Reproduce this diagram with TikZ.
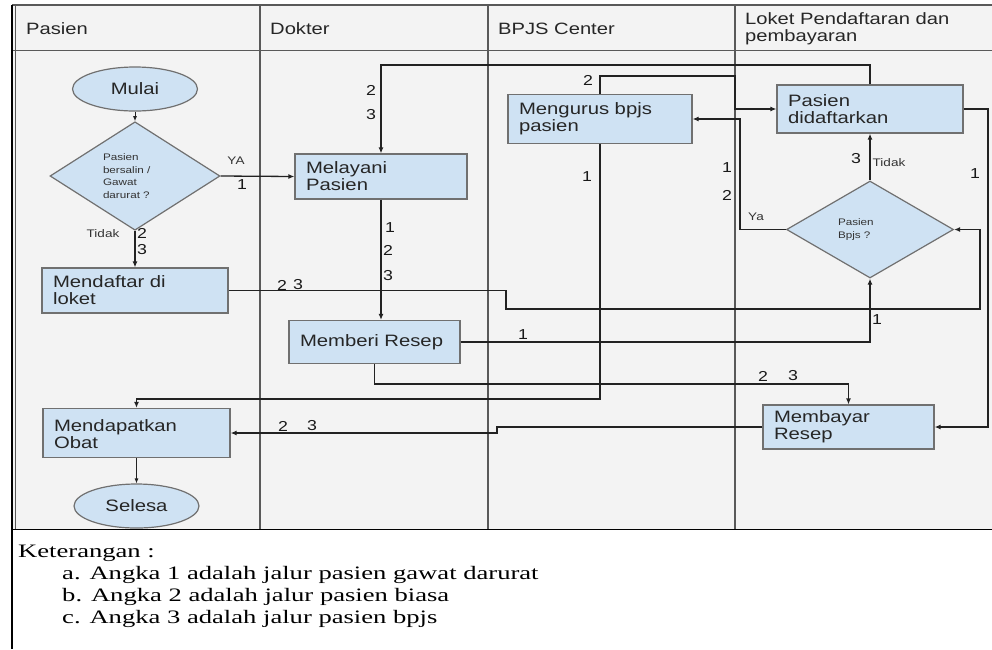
\documentclass[tikz,border=0pt]{standalone}
\usepackage{fontspec}
\setmainfont{Liberation Sans}[FakeStretch=1.23]
\newfontfamily\legfont{Liberation Serif}[FakeStretch=1.4]
\usetikzlibrary{shapes.geometric,arrows.meta}
\definecolor{lanebg}{HTML}{F3F3F3}
\definecolor{boxfill}{HTML}{CFE2F3}
\definecolor{boxline}{HTML}{707070}
\definecolor{linec}{HTML}{222222}
\begin{document}
\begin{tikzpicture}[x=1pt,y=-1pt,
  procbox/.style={draw=boxline, line width=1.2pt, fill=boxfill, rectangle, align=left,
    inner xsep=11pt, inner ysep=0pt, font=\fontsize{16.5}{17}\selectfont, text=black!85},
  term/.style={draw=boxline, line width=1.2pt, fill=boxfill, ellipse, inner sep=0pt,
    minimum width=125pt, minimum height=44pt, font=\fontsize{16.5}{17}\selectfont, text=black!85},
  decis/.style={draw=boxline, line width=1.2pt, fill=boxfill, diamond, inner sep=0pt,
    align=left, text width=64pt, font=\fontsize{9.5}{12.5}\selectfont, text=black!80},
  conn/.style={draw=linec, line width=1.8pt, -{Latex[length=6pt,width=5pt]}},
  midconn/.style={draw=linec, line width=1.3pt, -{Latex[length=6pt,width=5pt]}},
  thinconn/.style={draw=linec, line width=0.9pt, -{Latex[length=5pt,width=4pt]}},
  num/.style={font=\fontsize{14.4}{14.4}\selectfont, inner sep=0pt, text=black!90},
  small/.style={font=\fontsize{11}{11}\selectfont, inner sep=0pt, text=black!80},
  hdr/.style={font=\fontsize{16.4}{17}\selectfont, anchor=west, align=left, inner sep=0pt, text=black!85},
  lane/.style={draw=black!65, line width=1.5pt},
  legtext/.style={font=\legfont\fontsize{19}{22}\selectfont, anchor=base west, inner sep=0pt, text=black}
]
\useasboundingbox (0,0) rectangle (992,649);
% backgrounds and lanes
\fill[lanebg] (12,5) rectangle (992,529);
\draw[lane] (12,5) -- (992,5);
\draw[lane] (12,50.5) -- (992,50.5);
\draw[lane] (15.5,5) -- (15.5,529);
\draw[lane] (260,5) -- (260,529);
\draw[lane] (488,5) -- (488,529);
\draw[lane] (735,5) -- (735,529);
\draw[black, line width=1.6pt] (12,5) -- (12,649);
\draw[black, line width=1.8pt] (12,529.5) -- (992,529.5);

% headers
\node[hdr] (hpasien) at (26,29) {Pasien};
\node[hdr] (hdokter) at (270,29) {Dokter};
\node[hdr] (hbpjs) at (498,29) {BPJS Center};
\node[hdr] (hloket) at (745,28.5) {Loket Pendaftaran dan\\pembayaran};

% nodes
\node[term] (mulai) at (135,89) {Mulai};
\node[decis, minimum width=170pt, minimum height=98pt] (d1) at (135,176) {Pasien\\bersalin /\\Gawat\\darurat ?};
\node[procbox, text width=164pt, minimum height=45pt] (daftar) at (135,290.5) {Mendaftar di\\loket};
\node[procbox, text width=150pt, minimum height=45pt] (melayani) at (381,176.5) {Melayani\\Pasien};
\node[procbox, text width=149pt, minimum height=43pt] (resep) at (374.5,342) {Memberi Resep};
\node[procbox, text width=165pt, minimum height=49pt] (obat) at (136.5,433)
  {\raisebox{-8pt}[0pt][0pt]{\begin{tabular}{@{}l@{}}Mendapatkan\\Obat\end{tabular}}};
\node[term] (selesa) at (136.5,506) {Selesa};
\node[procbox, text width=162pt, minimum height=49pt] (bpjs) at (600,119) {Mengurus bpjs\\pasien};
\node[procbox, text width=164pt, minimum height=48pt] (didaftar) at (870,109) {Pasien\\didaftarkan};
\node[decis, minimum width=167pt, minimum height=97pt] (d2) at (870,229.5) {Pasien\\Bpjs ?};
\node[procbox, text width=149pt, minimum height=44pt] (bayar) at (848.5,427) {Membayar\\Resep};

% bend coordinates
\coordinate (ytop) at (0,65);
\coordinate (c6) at (735,76);
\coordinate (c7) at (740,119);
\coordinate (c9) at (988,427);
\coordinate (c10a) at (506,309);
\coordinate (c10b) at (980,309);
\coordinate (c12) at (374.5,384);
\coordinate (c13) at (600,399);
\coordinate (c14a) at (497,427);
\coordinate (c14b) at (497,433);

% connectors
\draw[thinconn] (mulai.south) -- (d1.north);
\draw[midconn] (d1.east) -- (melayani.west);
\draw[conn] (d1.south) -- (daftar.north);
\draw[conn] (melayani.south) -- (melayani.south |- resep.north);
\draw[conn] (didaftar.north) -- (didaftar.north |- ytop) -| (melayani.north);
\draw[conn] (bpjs.north) |- (c6) |- (didaftar.west);
\draw[conn] (d2.west) -| (c7) -- (bpjs.east);
\draw[conn] (d2.north) -- (didaftar.south);
\draw[conn] (didaftar.east) -| (c9) -- (bayar.east);
\draw[conn] (daftar.east) -| (c10a) -- (c10b) |- (d2.east);
\draw[conn] (resep.east) -| (d2.south);
\draw[conn] (resep.south) -- (c12) -| (bayar.north);
\draw[conn] (bpjs.south) -- (c13) -| (obat.north);
\draw[conn] (bayar.west) -- (c14a) -- (c14b) -- (obat.east);
\draw[thinconn] (obat.south) -- (selesa.north);

% labels
\node[small] (lya) at (236,161) {YA};
\node[num] (l1a) at (242,185) {1};
\node[small] (ltidak1) at (103,234) {Tidak};
\node[num] (l2a) at (142,233) {2};
\node[num] (l3a) at (142,250) {3};
\node[num] (l1b) at (390,228) {1};
\node[num] (l2b) at (388,250) {2};
\node[num] (l3b) at (388,276) {3};
\node[num] (l2c) at (371,90) {2};
\node[num] (l3c) at (371,115) {3};
\node[num] (l2d) at (588,80) {2};
\node[num] (l1c) at (587,177) {1};
\node[num] (l1d) at (727,168) {1};
\node[num] (l2e) at (727,195) {2};
\node[small] (lya2) at (756,217) {Ya};
\node[num] (l3d) at (856,159) {3};
\node[small] (ltidak2) at (889,163) {Tidak};
\node[num] (l1e) at (975,174) {1};
\node[num] (l1f) at (877,320) {1};
\node[num] (l2f) at (282,285) {2};
\node[num] (l3f) at (298,285) {3};
\node[num] (l1g) at (523,335) {1};
\node[num] (l2g) at (763,376) {2};
\node[num] (l3g) at (793,376) {3};
\node[num] (l2h) at (283,426) {2};
\node[num] (l3h) at (312,426) {3};

% legend
\node[legtext] (ket) at (18,557) {Keterangan :};
\node[legtext] (leg1) at (62,579) {a. Angka 1 adalah jalur pasien gawat darurat};
\node[legtext] (leg2) at (62,601) {b. Angka 2 adalah jalur pasien biasa};
\node[legtext] (leg3) at (62,623) {c. Angka 3 adalah jalur pasien bpjs};
\end{tikzpicture}
\end{document}
